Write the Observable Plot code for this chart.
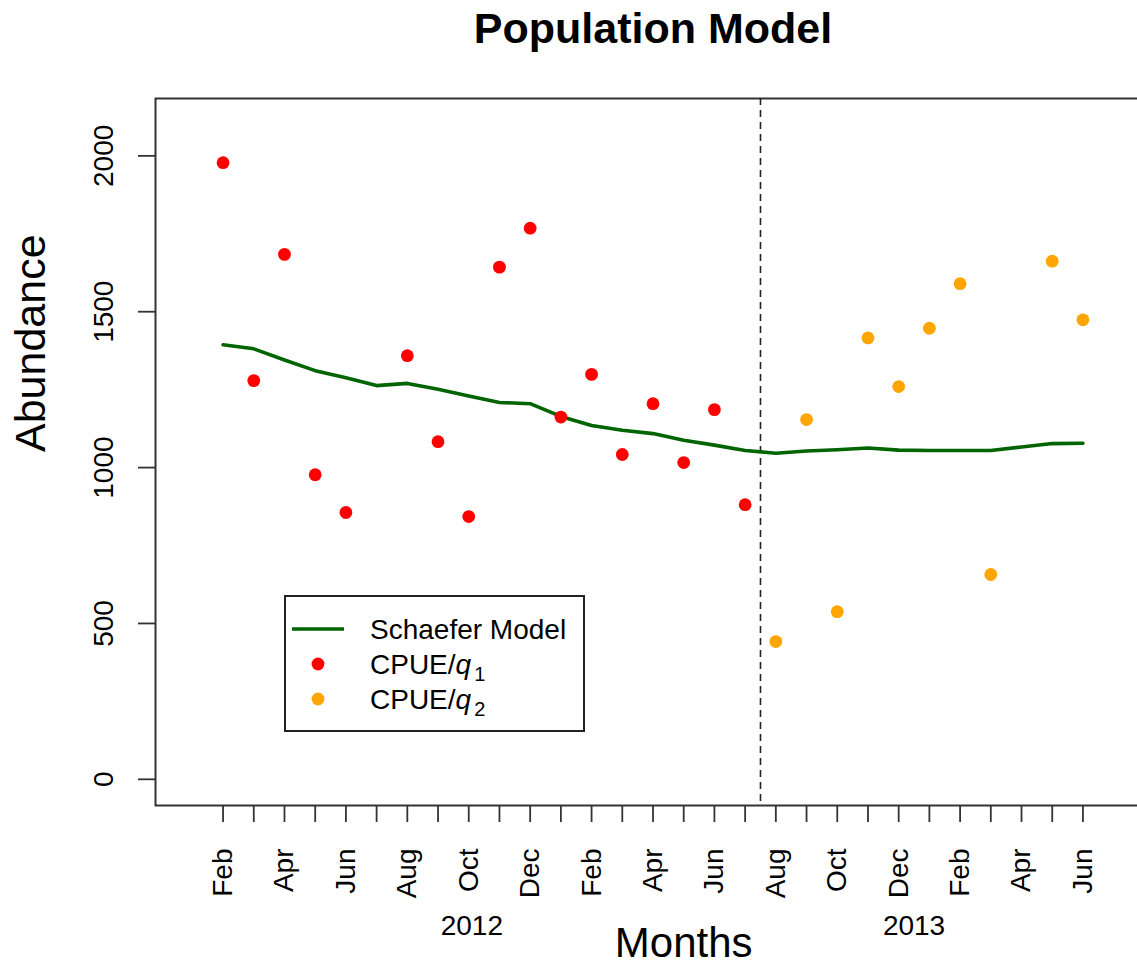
<!DOCTYPE html>
<html>
<head>
<meta charset="utf-8">
<script src="https://cdn.jsdelivr.net/npm/d3@7"></script>
<script src="https://cdn.jsdelivr.net/npm/@observablehq/plot@0.6"></script>
<style>
  html, body { margin: 0; padding: 0; background: #fff; overflow: hidden; }
  #wrap { position: relative; width: 1137px; height: 966px; overflow: hidden; font-family: "Liberation Sans", Arial, sans-serif; }
  #wrap > svg { max-width: none !important; position: absolute; left: 0; top: 0; }
  #legend { position: absolute; left: 284px; top: 595px; width: 297px; height: 133px; border: 2px solid #222; background: #fff; }
  #legend svg { position: absolute; left: 0; top: 0; }
</style>
</head>
<body>
<div id="wrap"></div>
<script>
// ---- data ----
const monthIndex = d3.range(1, 30); // Feb 2012 .. Jun 2014 (29 months)
const monthNames = ["Feb","Mar","Apr","May","Jun","Jul","Aug","Sep","Oct","Nov","Dec","Jan",
                    "Feb","Mar","Apr","May","Jun","Jul","Aug","Sep","Oct","Nov","Dec","Jan",
                    "Feb","Mar","Apr","May","Jun"];
const schaeferModel = [1394,1381,1345,1311,1288,1263,1270,1251,1230,1209,1205,1164,1135,1120,1109,
                       1088,1072,1055,1046,1053,1057,1063,1056,1055,1055,1055,1066,1077,1078];
const q1Months = [1,2,3,4,5,7,8,9,10,11,12,13,14,15,16,17,18];
const q1Values = [1978,1279,1684,977,856,1359,1083,843,1643,1768,1162,1299,1042,1205,1016,1186,881];
const q2Months = [19,20,21,22,23,24,25,26,28,29];
const q2Values = [442,1154,538,1416,1260,1447,1590,657,1662,1474];
const yTicks = [0, 500, 1000, 1500, 2000];
const breakMonth = [18.5];
const yearLabels = ["2012", "2013"];
const yearPos = [9.1, 23.5];

// ---- tables ----
const lineData = monthIndex.map((m, i) => ({m, v: schaeferModel[i]}));
const q1Data = q1Months.map((m, i) => ({m, v: q1Values[i]}));
const q2Data = q2Months.map((m, i) => ({m, v: q2Values[i]}));
const labelData = monthIndex.filter(m => m % 2 === 1).map(m => ({m, t: monthNames[m - 1]}));
const yearData = yearLabels.map((t, i) => ({t, m: yearPos[i]}));

const font = "Liberation Sans, Arial, sans-serif";

const chart = Plot.plot({
  width: 1160,
  height: 966,
  marginLeft: 155,
  marginRight: 10,
  marginTop: 98,
  marginBottom: 161,
  style: {fontFamily: font, background: "#fff", overflow: "visible", maxWidth: "none"},
  x: {domain: [-1.2, 31.2]},
  y: {domain: [-84, 2184]},
  marks: [
    Plot.frame({stroke: "#333", strokeWidth: 2}),
    Plot.axisX({ticks: monthIndex, tickSize: 17, fill: "none", label: null, stroke: "#333", strokeWidth: 1.8}),
    Plot.axisY({ticks: yTicks, tickSize: 17, fill: "none", label: null, stroke: "#333", strokeWidth: 1.8}),
    Plot.ruleX(breakMonth, {stroke: "#222", strokeWidth: 1.6, strokeDasharray: "7,5"}),
    Plot.line(lineData, {x: "m", y: "v", stroke: "#006400", strokeWidth: 3.6}),
    Plot.dot(q1Data, {x: "m", y: "v", r: 6.4, fill: "#ff0000", stroke: "none"}),
    Plot.dot(q2Data, {x: "m", y: "v", r: 6.4, fill: "#ffa500", stroke: "none"}),
    // x tick labels
    Plot.text(labelData, {x: "m", frameAnchor: "bottom", dy: 43, rotate: -90, textAnchor: "end",
      lineAnchor: "middle", text: "t", fontSize: 28, fill: "#000"}),
    // y tick labels
    Plot.text(yTicks, {y: d => d, text: d => String(d), frameAnchor: "left", dx: -51, rotate: -90,
      textAnchor: "middle", lineAnchor: "middle", fontSize: 28, fill: "#000"}),
    // year labels
    Plot.text(yearData, {x: "m", text: "t", frameAnchor: "bottom", dy: 121, lineAnchor: "middle",
      fontSize: 28, fill: "#000"}),
    // axis titles
    Plot.text(["Months"], {x: 16, text: d => d, frameAnchor: "bottom", dy: 138, lineAnchor: "middle",
      fontSize: 42, fill: "#000"}),
    Plot.text(["Abundance"], {text: d => d, frameAnchor: "left", dx: -124, rotate: -90,
      lineAnchor: "middle", fontSize: 43, fill: "#000"}),
    // title
    Plot.text(["Population Model"], {text: d => d, frameAnchor: "top", dy: -69, lineAnchor: "middle",
      fontSize: 43, fontWeight: "bold", fill: "#000"})
  ]
});

const wrap = document.getElementById("wrap");
wrap.appendChild(chart);

// legend (HTML overlay)
const legend = document.createElement("div");
legend.id = "legend";
legend.innerHTML = `
<svg width="297" height="133" xmlns="http://www.w3.org/2000/svg" font-family="${font}" font-size="28">
  <line x1="6" x2="58" y1="32" y2="32" stroke="#006400" stroke-width="3.6"/>
  <circle cx="32" cy="67" r="6.4" fill="#ff0000"/>
  <circle cx="32" cy="102" r="6.4" fill="#ffa500"/>
  <text x="84" y="42" fill="#000">Schaefer Model</text>
  <text x="84" y="77" fill="#000">CPUE/<tspan font-style="italic">q</tspan><tspan dx="3" dy="7" font-size="20">1</tspan></text>
  <text x="84" y="112" fill="#000">CPUE/<tspan font-style="italic">q</tspan><tspan dx="3" dy="7" font-size="20">2</tspan></text>
</svg>`;
wrap.appendChild(legend);
</script>
</body>
</html>
